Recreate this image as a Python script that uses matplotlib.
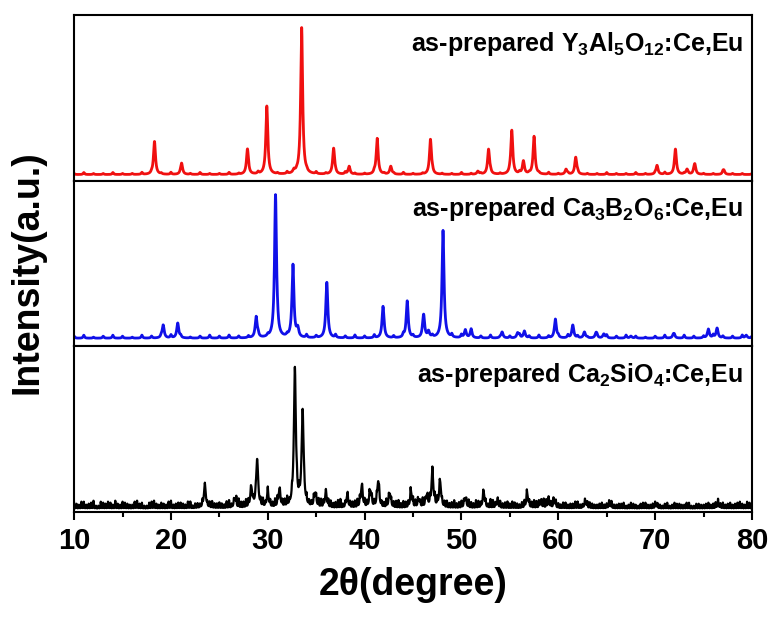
import numpy as np
import matplotlib
matplotlib.use("Agg")
import matplotlib.pyplot as plt
from matplotlib.ticker import MultipleLocator

# ==================================================
# Data (peak positions in 2theta, heights in arbitrary units)
# ==================================================

yag_pos = [18.3, 21.1, 27.9, 29.9, 32.7, 33.5, 36.8, 38.4, 41.3, 42.7,
           46.8, 51.7, 52.8, 55.2, 56.4, 57.5, 60.8, 61.8, 70.2, 72.1,
           73.3, 74.1, 77.1]
yag_int = [33, 11, 25, 68, 3, 147, 26, 8, 36, 8,
           35, 3, 25, 44, 13, 38, 5, 17, 9, 25,
           5, 10, 4]

cbo_pos = [19.2, 20.7, 28.8, 30.8, 32.6, 33.1, 36.1, 41.9, 44.4, 46.1,
           46.6, 48.1, 50.4, 51.0, 54.2, 55.8, 56.5, 59.7, 61.5, 62.7,
           63.9, 64.7, 67.5, 71.9, 75.5, 76.4, 79.4]
cbo_int = [13, 15, 21, 143, 73, 8, 55, 31, 37, 22,
           6, 107, 8, 7, 6, 5, 7, 19, 13, 6,
           5, 4, 2, 4, 9, 10, 3]

cso_pos = [23.5, 26.6, 28.3, 28.9, 30.0, 31.2, 32.8, 33.6, 34.9, 36.0,
           38.2, 39.7, 40.6, 41.4, 42.6, 44.8, 45.6, 46.4, 47.0, 47.8,
           50.4, 52.3, 53.7, 56.8, 58.2, 59.0, 59.6, 62.8, 65.3, 70.1,
           76.5]
cso_int = [23, 9, 19, 48, 14, 17, 138, 96, 14, 14,
           11, 21, 16, 26, 14, 14, 8, 11, 35, 25,
           10, 15, 6, 13, 5, 6, 5, 6, 3, 2,
           3]

# background wiggles read along the baseline (one value per grid step)
yag_noise = [1, 2, 1, 1, 2, 1, 1, 2, 1, 1,
             2, 1, 1, 2, 1, 1, 2, 1, 1, 2,
             1, 1, 2, 1, 1, 2, 1, 1, 2, 1,
             1, 2, 1, 1, 2, 1, 1, 2, 1, 1,
             2, 1, 1, 2, 1, 1, 2, 1, 1, 2,
             1, 1, 2, 1, 1, 2, 1, 1, 2, 1,
             1, 2, 1, 1, 2, 1, 1, 2, 1, 1,
             1]
cbo_noise = [2, 3, 1, 2, 3, 2, 1, 3, 2, 2,
             3, 2, 1, 2, 3, 2, 3, 2, 2, 3,
             2, 3, 2, 1, 3, 2, 2, 3, 2, 3,
             2, 3, 2, 2, 3, 2, 3, 2, 2, 3,
             3, 2, 2, 3, 1, 2, 3, 2, 3, 2,
             2, 3, 2, 1, 2, 3, 2, 3, 2, 1,
             2, 3, 2, 3, 2, 2, 3, 2, 2, 3,
             2]
# Ca2SiO4 background, on whole and half degrees ...
cso_noise = [6, 4, 7, 5, 8, 3, 6, 7, 4, 5,
             7, 5, 4, 8, 6, 3, 7, 5, 6, 4,
             8, 5, 6, 4, 7, 5, 4, 3, 6, 5,
             6, 4, 8, 5, 9, 6, 7, 5, 6, 8,
             7, 5, 8, 6, 9, 7, 8, 6, 7, 5,
             6, 8, 5, 7, 6, 9, 5, 6, 7, 8,
             7, 9, 6, 8, 5, 7, 6, 8, 7, 6,
             8, 6, 9, 7, 6, 8, 5, 7, 6, 5,
             7, 5, 6, 8, 5, 6, 9, 5, 7, 6,
             5, 6, 4, 7, 6, 8, 7, 9, 6, 8,
             5, 6, 4, 5, 7, 4, 6, 5, 4, 6,
             5, 7, 4, 5, 3, 6, 4, 5, 6, 4,
             6, 4, 5, 3, 6, 5, 4, 6, 3, 5,
             4, 6, 5, 7, 6, 5, 4, 6, 5, 7,
             5]
# ... and on the quarter points in between
cso_noise_mid = [5, 7, 4, 6, 3, 7, 5, 6, 8, 4,
                 6, 4, 7, 5, 3, 6, 8, 4, 5, 7,
                 4, 6, 5, 7, 3, 5, 6, 4, 7, 5,
                 5, 7, 4, 9, 6, 8, 5, 7, 6, 4,
                 6, 8, 5, 7, 4, 6, 9, 7, 5, 8,
                 8, 6, 7, 5, 8, 4, 7, 6, 8, 6,
                 6, 8, 7, 5, 8, 6, 7, 5, 6, 9,
                 7, 5, 6, 8, 9, 7, 6, 5, 8, 6,
                 6, 8, 5, 7, 6, 4, 8, 6, 5, 7,
                 7, 5, 6, 8, 6, 7, 5, 8, 6, 7,
                 4, 6, 5, 7, 4, 5, 6, 4, 5, 4,
                 6, 4, 5, 6, 4, 5, 3, 6, 4, 5,
                 5, 3, 6, 4, 5, 4, 6, 3, 5, 4,
                 5, 4, 6, 5, 4, 6, 5, 7, 4, 6]

labels = [
    "as-prepared Y$_3$Al$_5$O$_{12}$:Ce,Eu",
    "as-prepared Ca$_3$B$_2$O$_6$:Ce,Eu",
    "as-prepared Ca$_2$SiO$_4$:Ce,Eu",
]

# ==================================================
# Style
# ==================================================

plt.rcParams["font.family"] = ["Liberation Sans", "DejaVu Sans"]
plt.rcParams["font.weight"] = "bold"
plt.rcParams["mathtext.fontset"] = "custom"
plt.rcParams["mathtext.rm"] = "Liberation Sans:bold"
plt.rcParams["mathtext.default"] = "rm"


def add_bumps(x, y, pos, inten, width):
    for p, h in zip(pos, inten):
        y += h / (1 + ((x - p) / width) ** 2)
    return y


def pattern(x, pos, inten, noise, step, base, width=0.12, nwidth=0.08,
            extra=None):
    y = np.full_like(x, base, dtype=float)
    y = add_bumps(x, y, pos, inten, width)
    grid = 10 + step * np.arange(len(noise))
    y = add_bumps(x, y, grid, noise, nwidth)
    if extra is not None:
        grid2 = 10 + step / 2 + step * np.arange(len(extra))
        y = add_bumps(x, y, grid2, extra, nwidth)
    return y


x = np.arange(10, 80.001, 0.005)

curves = [
    (pattern(x, yag_pos, yag_int, yag_noise, 1.0, 6), "#f01010", 2.0),
    (pattern(x, cbo_pos, cbo_int, cbo_noise, 1.0, 8), "#1010e8", 2.0),
    (pattern(x, cso_pos, cso_int, cso_noise, 0.5, 3, nwidth=0.03,
             extra=cso_noise_mid), "black", 1.6),
]

fig, axes = plt.subplots(3, 1, sharex=True, figsize=(7.72, 6.19), dpi=100)
fig.subplots_adjust(left=0.096, right=0.974, bottom=0.173, top=0.976, hspace=0)

for ax, (y, color, lw), label in zip(axes, curves, labels):
    ax.plot(x, y, color=color, linewidth=lw)
    ax.set_ylim(0, 166)
    ax.set_xlim(10, 80)
    ax.set_yticks([])
    for s in ax.spines.values():
        s.set_linewidth(1.5)
    ax.tick_params(axis="x", which="both", bottom=False, top=False)
    ax.text(0.987, 0.91, label, transform=ax.transAxes, ha="right", va="top",
            fontsize=18, fontweight="bold")

bottom = axes[-1]
bottom.xaxis.set_major_locator(MultipleLocator(10))
bottom.xaxis.set_minor_locator(MultipleLocator(5))
bottom.tick_params(axis="x", which="major", bottom=True, direction="out",
                   length=6, width=1.5, pad=5, labelsize=21)
bottom.tick_params(axis="x", which="minor", bottom=True, direction="out",
                   length=3.5, width=1.5)
for t in bottom.get_xticklabels():
    t.set_fontweight("bold")

fig.text(0.535, 0.055, "2θ(degree)", ha="center", va="center",
         fontsize=27, fontweight="bold")
fig.text(0.036, 0.56, "Intensity(a.u.)", ha="center", va="center",
         rotation=90, fontsize=27, fontweight="bold")

fig.savefig("out.png", dpi=100)
